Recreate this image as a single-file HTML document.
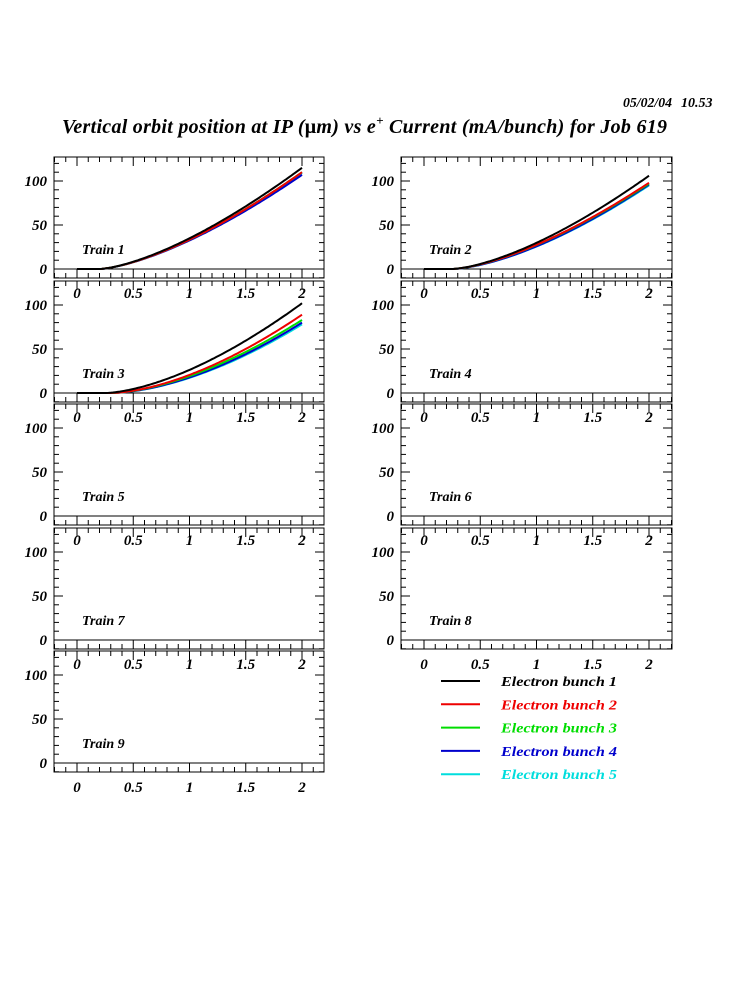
<!DOCTYPE html>
<html><head><meta charset="utf-8"><style>
body{margin:0;background:#fff}
svg text{font-family:"Liberation Serif",serif;font-weight:bold;font-style:italic}
</style></head><body>
<svg id="s" width="750" height="1000" xmlns="http://www.w3.org/2000/svg">
<text x="623" y="107" font-size="14" textLength="49" lengthAdjust="spacingAndGlyphs">05/02/04</text>
<text x="681" y="107" font-size="14">10.53</text>
<text x="62" y="133" font-size="20" textLength="605" lengthAdjust="spacing">Vertical orbit position at IP (<tspan font-style="normal">μ</tspan>m) vs e<tspan dy="-8" font-size="13">+</tspan><tspan dy="8"> Current (mA/bunch) for Job 619</tspan></text>
</svg>
<script>
var s=document.getElementById('s'),h='';
var cols=['#000','#e00','#0d0','#00c','#0dd'];
var tops=[157,281,404,528,651];
var curves={1:[[115,0.2,1.47],[110,0.2,1.47],[110,0.2,1.47],[107,0.2,1.47],[109,0.2,1.47]],
2:[[106,0.25,1.5],[98,0.25,1.5],[97,0.25,1.5],[96,0.25,1.55],[95,0.25,1.55]],
3:[[102,0.25,1.6],[89,0.3,1.65],[83,0.3,1.65],[80,0.3,1.7],[78,0.3,1.7]]};
for(var n=1;n<=9;n++){
 var c=(n-1)%2,r=Math.floor((n-1)/2),L=c?401:54,R=c?672:324,T=tops[r],B=T+121;
 var x0=L+23,sx=112.5,y0=T+112,sy=0.88;
 h+='<rect x="'+L+'" y="'+T+'" width="'+(R-L)+'" height="'+(B-T)+'" fill="none" stroke="#000" stroke-width="1"/>';
 h+='<line x1="'+L+'" x2="'+R+'" y1="'+y0+'" y2="'+y0+'" stroke="#000"/>';
 for(var v=-10;v<=120;v+=10){var y=y0-v*sy,l=(v%50==0)?9:5;
  h+='<line x1="'+L+'" x2="'+(L+l)+'" y1="'+y+'" y2="'+y+'" stroke="#000"/><line x1="'+R+'" x2="'+(R-l)+'" y1="'+y+'" y2="'+y+'" stroke="#000"/>';}
 for(var i=-2;i<=22;i++){var x=x0+i*sx/10;if(x<L||x>R)continue;var l=(i%5==0)?9:5;
  h+='<line x1="'+x+'" x2="'+x+'" y1="'+T+'" y2="'+(T+l)+'" stroke="#000"/><line x1="'+x+'" x2="'+x+'" y1="'+B+'" y2="'+(B-l)+'" stroke="#000"/>';}
 [['0',0],['50',50],['100',100]].forEach(function(a){h+='<text x="'+(L-7)+'" y="'+(y0-a[1]*sy+5)+'" font-size="15" text-anchor="end">'+a[0]+'</text>';});
 [['0',0],['0.5',.5],['1',1],['1.5',1.5],['2',2]].forEach(function(a){h+='<text x="'+(x0+a[1]*sx)+'" y="'+(B+20)+'" font-size="15" text-anchor="middle">'+a[0]+'</text>';});
 h+='<text x="'+(L+28)+'" y="'+(T+97)+'" font-size="14">Train '+n+'</text>';
 if(curves[n]){var cs=curves[n];for(var k=cs.length-1;k>=0;k--){var a=cs[k],kk=a[0]/Math.pow(2-a[1],a[2]),p='';
  for(var x=0;x<=2.0001;x+=0.02){var v=x>a[1]?kk*Math.pow(x-a[1],a[2]):0;p+=(p?'L':'M')+(x0+x*sx).toFixed(1)+','+(y0-v*sy).toFixed(1);}
  h+='<path d="'+p+'" fill="none" stroke="'+cols[k]+'" stroke-width="2"/>';}}
}
for(var k=0;k<5;k++){var y=681+k*23.3;
 h+='<line x1="441" x2="480" y1="'+y+'" y2="'+y+'" stroke="'+cols[k]+'" stroke-width="2"/><text x="501" y="'+(y+5)+'" font-size="14" fill="'+cols[k]+'" textLength="116" lengthAdjust="spacingAndGlyphs">Electron bunch '+(k+1)+'</text>';}
s.insertAdjacentHTML('beforeend',h);
</script>
</body></html>
